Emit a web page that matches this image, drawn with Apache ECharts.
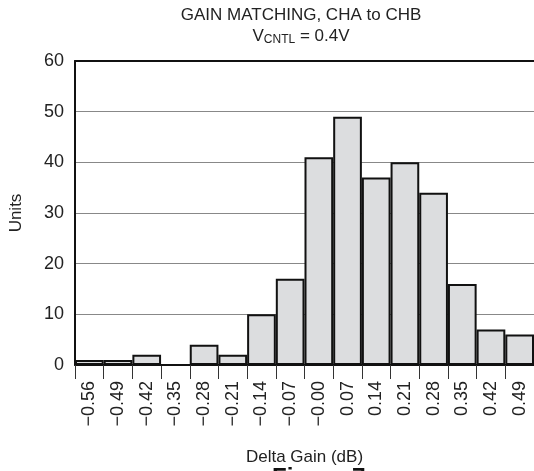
<!DOCTYPE html>
<html>
<head>
<meta charset="utf-8">
<script src="https://cdn.jsdelivr.net/npm/echarts@6/dist/echarts.min.js"></script>
<style>
html,body{margin:0;padding:0;background:#fff;}
#c{width:534px;height:471px;}
</style>
</head>
<body>
<div id="c"></div>
<script>
var categories = ["\u22120.56","\u22120.49","\u22120.42","\u22120.35","\u22120.28","\u22120.21","\u22120.14","\u22120.07","\u22120.00","0.07","0.14","0.21","0.28","0.35","0.42","0.49"];
var units = [1,1,2,0,4,2,10,17,41,49,37,40,34,16,7,6];
var yTicks = {min:0, max:60, interval:10};

var chart = echarts.init(document.getElementById('c'));
var font = 'Liberation Sans, Arial, sans-serif';
chart.setOption({
  animation:false,
  backgroundColor:'#fff',
  title:{
    text:'GAIN MATCHING, CHA to CHB',
    subtext:'{v|V}{s|CNTL}{v| = 0.4V}',
    left:296, top:2, textAlign:'center', itemGap:2,
    textStyle:{fontFamily:font,fontSize:17,fontWeight:'normal',color:'#222'},
    subtextStyle:{fontFamily:font,fontSize:17,color:'#222',
      rich:{v:{fontFamily:font,fontSize:17,color:'#222'},
            s:{fontFamily:font,fontSize:12,color:'#222',verticalAlign:'bottom',padding:[8,0,0,0]}}}
  },
  grid:{left:73,top:61,right:-3,bottom:97,containLabel:false},
  xAxis:[{
    type:'category', data:categories, boundaryGap:true,
    name:'Delta Gain (dB)', nameLocation:'middle', nameGap:84,
    nameTextStyle:{fontFamily:font,fontSize:17,color:'#222'},
    axisLine:{show:true,lineStyle:{color:'#111',width:2}},
    axisTick:{show:true,length:14,alignWithLabel:false,lineStyle:{color:'#333',width:1}},
    axisLabel:{rotate:90,margin:16,fontFamily:font,fontSize:18,color:'#222',interval:0},
    splitLine:{show:false}
  },{
    type:'category', data:categories, position:'top',
    axisLine:{show:true,lineStyle:{color:'#111',width:2}},
    axisTick:{show:false}, axisLabel:{show:false}, splitLine:{show:false}
  }],
  yAxis:{
    type:'value', min:yTicks.min, max:yTicks.max, interval:yTicks.interval,
    name:'Units', nameLocation:'middle', nameGap:50,
    nameTextStyle:{fontFamily:font,fontSize:17,color:'#222'},
    axisLine:{show:true,lineStyle:{color:'#111',width:2}},
    axisTick:{show:false},
    axisLabel:{fontFamily:font,fontSize:18,color:'#222',margin:11},
    splitLine:{show:true,lineStyle:{color:'#888',width:1}}
  },
  series:[{
    type:'bar', data:units, barCategoryGap:'0%', xAxisIndex:0,
    itemStyle:{color:'#dcdddf',borderColor:'#111',borderWidth:2}
  }],
  graphic:[{
    type:'text', left:272, top:466,
    style:{text:'Figure 7', fontFamily:font, fontSize:24, fontWeight:'bold', fill:'#111'}
  }]
});
</script>
</body>
</html>
